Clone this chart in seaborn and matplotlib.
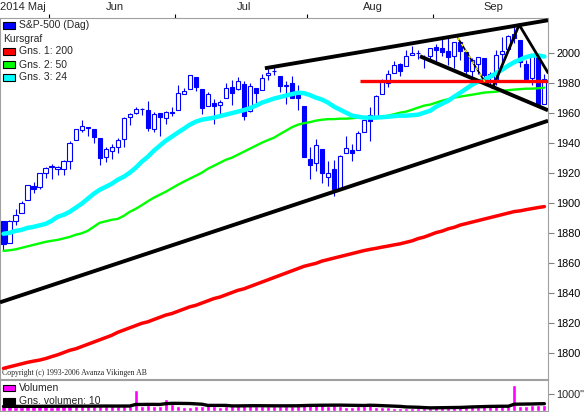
import numpy as np
import pandas as pd
import seaborn as sns
import matplotlib.pyplot as plt
import matplotlib.transforms as mtransforms
from matplotlib.patches import Rectangle

# trading days on the chart (2014-05-20 .. 2014-09-26)
days = pd.bdate_range('2014-05-20', '2014-09-26')
days = days[~days.isin(pd.to_datetime(['2014-05-26', '2014-07-04', '2014-09-01']))]

# S&P-500 daily OHLC, one line per month
opens = [1887.9, 1873.3, 1888.2, 1893.3, 1902.0, 1911.8, 1910.6, 1920.3,
         1923.9, 1923.1, 1923.1, 1928.5, 1942.4, 1949.0, 1950.3, 1949.4, 1943.4, 1930.8, 1934.8, 1937.2, 1942.7, 1957.5, 1960.5, 1962.9, 1962.0, 1949.3, 1959.9, 1956.6, 1960.8,
         1962.3, 1973.1, 1975.9, 1984.2, 1976.4, 1965.1, 1966.7, 1965.8, 1969.9, 1977.4, 1976.4, 1979.8, 1961.5, 1976.9, 1975.7, 1985.3, 1988.1, 1984.6, 1978.3, 1980.0, 1973.2, 1965.1,
         1929.8, 1926.6, 1936.3, 1917.3, 1923.0, 1910.4, 1933.4, 1935.7, 1935.6, 1947.4, 1958.9, 1958.4, 1972.7, 1980.5, 1986.8, 1992.6, 1991.7, 1998.6, 2000.5, 1997.4, 1998.5,
         2004.1, 2003.6, 2001.7, 1998.0, 2007.2, 2000.7, 1988.4, 1992.9, 1996.7, 1986.0, 1981.9, 1999.3, 2003.1, 2012.7, 2009.1, 1992.8, 1983.3, 1997.3, 1966.2]
highs = [1888.0, 1888.8, 1896.3, 1901.3, 1912.3, 1914.5, 1920.0, 1924.0,
         1925.9, 1925.1, 1928.6, 1941.7, 1949.4, 1955.6, 1950.9, 1949.4, 1943.4, 1937.3, 1939.5, 1943.7, 1957.7, 1959.9, 1963.9, 1963.7, 1968.2, 1960.8, 1959.9, 1961.5, 1964.2,
         1978.6, 1976.7, 1985.6, 1984.2, 1976.4, 1974.2, 1969.8, 1968.7, 1979.9, 1982.5, 1983.9, 1981.8, 1979.9, 1976.9, 1986.2, 1989.2, 1991.4, 1984.6, 1981.5, 1984.9, 1978.9, 1965.1,
         1937.4, 1942.9, 1936.3, 1927.9, 1928.9, 1932.4, 1944.9, 1939.7, 1948.4, 1955.2, 1964.0, 1972.0, 1982.6, 1988.6, 1994.8, 1993.5, 2002.0, 2005.0, 2002.1, 1998.6, 2003.4,
         2006.1, 2009.3, 2011.2, 2007.7, 2007.2, 2001.0, 1996.7, 1997.7, 1996.7, 1987.2, 2002.3, 2010.7, 2012.3, 2019.3, 2009.1, 1995.4, 1999.8, 1997.3, 1986.4]
lows = [1868.9, 1873.3, 1885.4, 1893.3, 1902.0, 1906.7, 1909.8, 1916.6,
        1915.9, 1918.8, 1918.6, 1922.9, 1942.4, 1947.2, 1944.6, 1940.1, 1925.8, 1927.7, 1929.4, 1933.6, 1937.7, 1952.3, 1959.2, 1958.9, 1948.3, 1947.5, 1944.7, 1953.0, 1958.2,
        1962.3, 1972.6, 1975.9, 1974.9, 1959.5, 1965.1, 1952.9, 1959.6, 1969.9, 1965.3, 1975.7, 1955.6, 1960.8, 1965.8, 1975.7, 1982.4, 1985.8, 1974.4, 1966.0, 1970.0, 1962.4, 1930.7,
        1916.4, 1921.2, 1913.8, 1911.5, 1904.8, 1909.0, 1933.4, 1928.3, 1935.6, 1947.4, 1941.5, 1958.4, 1972.7, 1977.7, 1986.8, 1984.8, 1991.7, 1998.6, 1996.2, 1990.5, 1994.7,
        1994.9, 1998.2, 1992.4, 1990.1, 1995.6, 1984.6, 1983.0, 1985.9, 1980.3, 1978.5, 1979.1, 1993.3, 2003.1, 2006.6, 1991.0, 1982.8, 1978.6, 1966.0, 1966.2]
closes = [1872.8, 1888.0, 1892.5, 1900.5, 1911.9, 1909.8, 1920.0, 1923.6,
          1925.0, 1924.2, 1927.9, 1940.5, 1949.4, 1951.3, 1950.8, 1943.9, 1930.1, 1936.2, 1937.8, 1942.0, 1957.0, 1959.5, 1962.9, 1962.6, 1950.0, 1959.5, 1957.2, 1961.0, 1960.2,
          1973.3, 1974.6, 1985.4, 1977.7, 1963.7, 1972.8, 1964.7, 1967.6, 1977.1, 1973.3, 1981.6, 1958.1, 1978.2, 1973.6, 1983.5, 1987.0, 1988.0, 1978.3, 1978.9, 1970.0, 1970.1, 1930.7,
          1925.2, 1939.0, 1920.2, 1920.2, 1909.6, 1931.6, 1936.9, 1933.8, 1946.7, 1955.2, 1955.1, 1971.7, 1981.6, 1986.5, 1992.4, 1988.4, 1997.9, 2000.0, 2000.1, 1996.7, 2003.4,
          2002.3, 2000.7, 1997.7, 2007.7, 2001.5, 1988.4, 1995.7, 1997.5, 1985.5, 1984.1, 1999.0, 2001.6, 2011.4, 2010.4, 1994.3, 1982.8, 1998.3, 1966.0, 1982.9]

# moving averages
ma200 = [1790, 1791, 1792, 1793, 1794, 1794.8, 1795.5, 1796.5,
         1797.8, 1799, 1800.5, 1802, 1803, 1804.5, 1806, 1807.5, 1809, 1810.5, 1812, 1814, 1815.5, 1817, 1818.5, 1820, 1821, 1822.5, 1824, 1825.5, 1826.5,
         1828, 1829.5, 1831, 1832, 1833.5, 1835, 1836.5, 1837.5, 1839, 1840.5, 1842, 1843, 1844.5, 1846, 1847.5, 1849, 1850.5, 1852, 1853.5, 1855, 1856.5, 1858,
         1859, 1860, 1861.5, 1862.5, 1863.5, 1864.5, 1865.5, 1866.5, 1867.5, 1868.5, 1869.3, 1870, 1870.8, 1871.5, 1872.3, 1873, 1874, 1875, 1876.5, 1877.5, 1879,
         1880.5, 1881.5, 1883, 1884, 1885.5, 1886.5, 1887.5, 1888.5, 1889.5, 1890.5, 1891.5, 1892.5, 1893.5, 1894.5, 1895, 1895.8, 1896.5, 1897.2, 1897.8]
ma50 = [1868.3, 1868.7, 1869.3, 1870.3, 1871.3, 1872.3, 1873.3, 1874.3,
        1875.0, 1875.6, 1876.6, 1877.6, 1879.0, 1880.0, 1881.6, 1884.3, 1887.0, 1888.0, 1889.0, 1889.6, 1891.6, 1894.3, 1896.3, 1898.7, 1901.3, 1903.7, 1905.7, 1907.7, 1910.0,
        1912.3, 1914.4, 1916.4, 1918.4, 1920.4, 1923.0, 1925.0, 1927.0, 1929.0, 1930.4, 1932.4, 1934.4, 1936.4, 1938.4, 1940.4, 1942.1, 1943.7, 1946.1, 1948.4, 1950.7, 1952.4, 1953.4,
        1954.1, 1955.1, 1955.7, 1956.1, 1956.1, 1956.4, 1956.4, 1956.7, 1957.1, 1957.1, 1957.1, 1957.4, 1957.7, 1958.4, 1959.4, 1960.4, 1961.1, 1962.4, 1963.8, 1965.1, 1965.8,
        1967.1, 1968.4, 1969.4, 1970.4, 1971.1, 1971.8, 1972.4, 1973.1, 1973.8, 1974.1, 1974.4, 1975.1, 1975.4, 1975.8, 1976.1, 1976.4, 1976.4, 1976.7, 1977.1]
ma24 = [1879.7, 1880.3, 1881.6, 1882.3, 1883.6, 1884.3, 1885.3, 1886.3,
        1888.3, 1891.0, 1892.3, 1894.3, 1897.0, 1899.7, 1903.0, 1906.3, 1909.0, 1911.0, 1913.0, 1915.7, 1917.7, 1920.4, 1923.7, 1927.7, 1931.0, 1935.0, 1938.4, 1941.7, 1944.4,
        1947.1, 1949.7, 1952.4, 1954.4, 1955.7, 1956.4, 1957.1, 1958.1, 1959.1, 1960.1, 1961.1, 1962.1, 1963.4, 1965.1, 1967.1, 1968.4, 1969.8, 1970.8, 1971.8, 1972.8, 1973.7, 1973.4,
        1972.1, 1970.4, 1969.1, 1967.1, 1964.4, 1962.4, 1960.4, 1958.4, 1957.7, 1957.1, 1957.1, 1957.1, 1957.4, 1957.7, 1958.1, 1958.4, 1958.4, 1958.7, 1959.1, 1960.4, 1961.7,
        1964.4, 1966.4, 1968.4, 1971.1, 1973.7, 1976.4, 1979.1, 1981.1, 1982.4, 1984.4, 1986.8, 1989.1, 1991.8, 1994.1, 1995.8, 1997.5, 1998.5, 1998.5, 1997.8]

# volume and its 10 day average (chart units)
volume = [280, 300, 260, 240, 270, 290, 270, 300,
          260, 280, 290, 330, 300, 280, 290, 300, 320, 290, 270, 280, 330, 310, 1235, 290, 330, 300, 280, 720, 420,
          300, 260, 230, 280, 320, 330, 300, 260, 320, 320, 330, 370, 330, 310, 300, 300, 290, 300, 280, 310, 330, 430,
          420, 330, 330, 320, 340, 300, 250, 260, 280, 300, 490, 230, 220, 210, 200, 180, 170, 190, 170, 180, 160,
          250, 270, 280, 260, 250, 300, 300, 260, 280, 290, 300, 290, 270, 1525, 290, 300, 340, 380, 330]
volume_ma10 = [270, 272, 272, 270, 272, 275, 275, 278,
               278, 280, 282, 285, 285, 285, 285, 288, 290, 292, 290, 290, 292, 292, 385, 385, 390, 390, 385, 430, 450,
               450, 445, 440, 420, 400, 330, 330, 330, 330, 300, 300, 305, 310, 312, 310, 308, 305, 305, 305, 305, 308, 320,
               330, 335, 340, 342, 345, 345, 340, 335, 330, 325, 340, 330, 315, 300, 285, 270, 240, 230, 220, 200, 185,
               190, 195, 200, 205, 210, 225, 240, 250, 260, 270, 275, 280, 280, 400, 405, 410, 415, 425, 430]

# hand drawn trend lines: (day index, price) end points
trend_x = [[-0.58, 90.6], [43.5, 90.6], [69.3, 90.6]]
trend_y = [[1834, 1955], [1990, 2022], [1998, 1962]]
zig_x = [81.4, 85.8, 90.6]
zig_y = [1977, 2019, 1987]
dotted_x = [75.6, 80.1]
dotted_y = [2010.2, 1980.9]
support_x = [59.3, 90.6]
support_y = [1981.2, 1981.2]

BLUE, RED, GREEN, CYAN, MAGENTA = '#0000FF', '#FF0000', '#00FF00', '#00FFFF', '#FF00FF'

sns.set_style('white')
plt.rcParams['font.family'] = ['Liberation Sans', 'DejaVu Sans']

W, H = 584, 412
fig = plt.figure(figsize=(W / 100, H / 100), dpi=100)


def px_box(l, t, r, b):
    return [l / W, 1 - b / H, (r - l) / W, (b - t) / H]


ax = fig.add_axes(px_box(0, 18, 548, 379))
axv = fig.add_axes(px_box(0, 380, 548, 411))

x = np.arange(len(days))
o, h, l, c = map(np.array, (opens, highs, lows, closes))
up = c >= o

# candles
ax.vlines(x, l, h, color=BLUE, lw=0.8, zorder=2)
ax.bar(x[up], (c - o)[up], bottom=o[up], width=0.7, color='white', edgecolor=BLUE, lw=0.8, zorder=3)
ax.bar(x[~up], (o - c)[~up], bottom=c[~up], width=0.7, color=BLUE, edgecolor=BLUE, lw=0.8, zorder=3)

# moving averages
ma = pd.DataFrame({'x': x, 'ma200': ma200, 'ma50': ma50, 'ma24': ma24})
sns.lineplot(data=ma, x='x', y='ma200', color=RED, lw=2.5, ax=ax, zorder=4, legend=False)
sns.lineplot(data=ma, x='x', y='ma50', color=GREEN, lw=1.7, ax=ax, zorder=4, legend=False)
sns.lineplot(data=ma, x='x', y='ma24', color=CYAN, lw=3.2, ax=ax, zorder=4, legend=False)

# drawn lines
for tx, ty in zip(trend_x, trend_y):
    ax.plot(tx, ty, color='black', lw=2.8, zorder=5, solid_capstyle='butt')
ax.plot(zig_x, zig_y, color='black', lw=2.0, zorder=5)
ax.plot(dotted_x, dotted_y, color='black', lw=1.2, zorder=5)
ax.plot(dotted_x, dotted_y, color='yellow', lw=1.0, ls=(0, (2, 3)), zorder=6)
ax.plot(support_x, support_y, color=RED, lw=2.4, zorder=5, solid_capstyle='butt')

ax.set_xlim(-0.58, 90.6)
ax.set_ylim(1782.9, 2023.5)
ax.set_xlabel('')
ax.set_ylabel('')

# price axis on the right
ax.yaxis.tick_right()
ax.set_yticks(np.arange(1800, 2001, 20))
ax.tick_params(axis='y', direction='out', length=4, width=0.8, color='#808080',
               pad=2, labelsize=7.8, labelcolor='black')

# month boundaries on top
month = days.month
bounds = [i - 0.5 for i in range(1, len(days)) if month[i] != month[i - 1]]
ax.xaxis.tick_top()
ax.set_xticks(bounds)
ax.set_xticklabels([])
ax.tick_params(axis='x', direction='out', length=3, width=0.8, color='black')
for s in ax.spines.values():
    s.set_color('#A0A0A0')
    s.set_linewidth(0.8)

top = mtransforms.blended_transform_factory(ax.transData, fig.transFigure)
month_names = {6: 'Jun', 7: 'Jul', 8: 'Aug', 9: 'Sep'}
ax.text(-0.58, 1 - 7.5 / H, '2014 Maj', transform=top, ha='left', va='center', fontsize=8)
for m, name in month_names.items():
    pos = x[month == m]
    ax.text((pos.min() + pos.max()) / 2 + 0.5, 1 - 7.5 / H, name, transform=top,
            ha='center', va='center', fontsize=8)

# legend, top left
legend_rows = [('S&P-500 (Dag)', BLUE, 25), ('Kursgraf', None, 39), ('Gns. 1: 200', RED, 51.5),
               ('Gns. 2: 50', GREEN, 64.5), ('Gns. 3: 24', CYAN, 77.5)]
for label, col, yy in legend_rows:
    if col is None:
        fig.text(3 / W, 1 - yy / H, label, ha='left', va='center', fontsize=7.5)
    else:
        fig.patches.append(Rectangle((3 / W, 1 - (yy + 3.5) / H), 12 / W, 7 / H, transform=fig.transFigure,
                                     facecolor=col, edgecolor='black', lw=0.8))
        fig.text(19 / W, 1 - yy / H, label, ha='left', va='center', fontsize=7.5)

ax.text(2 / W, 1 - 373 / H, 'Copyright (c) 1993-2006 Avanza Vikingen AB', transform=fig.transFigure,
        ha='left', va='center', fontsize=5.6, family='Liberation Serif', zorder=1)

# volume panel
vol = pd.DataFrame({'x': x, 'vol': volume, 'ma': volume_ma10})
for label, col, yy in [('Volumen', MAGENTA, 388), ('Gns. volumen: 10', 'black', 400.5)]:
    axv.add_patch(Rectangle((3 / W, 1 - (yy + 3) / H), 12 / W, 6 / H, transform=fig.transFigure,
                            facecolor=col, edgecolor='black', lw=0.8, zorder=1, clip_on=False))
    axv.text(19 / W, 1 - yy / H, label, transform=fig.transFigure, ha='left', va='center',
             fontsize=7.5, zorder=1)
sns.barplot(data=vol, x='x', y='vol', native_scale=True, color=MAGENTA, saturation=1,
            width=0.7, errorbar=None, ax=axv, zorder=2)
sns.lineplot(data=vol, x='x', y='ma', color='black', lw=2.4, ax=axv, zorder=3, legend=False)
axv.set_xlim(-0.58, 90.6)
axv.set_ylim(0, 1824)
axv.set_xlabel('')
axv.set_ylabel('')
axv.set_xticks([])
axv.yaxis.tick_right()
axv.set_yticks([1000])
axv.set_yticklabels(['1000"'])
axv.tick_params(axis='y', direction='out', length=4, width=0.8, color='#808080', pad=2, labelsize=7.8)
for s in axv.spines.values():
    s.set_color('#A0A0A0')
    s.set_linewidth(0.8)

fig.savefig('out.png', dpi=100)
